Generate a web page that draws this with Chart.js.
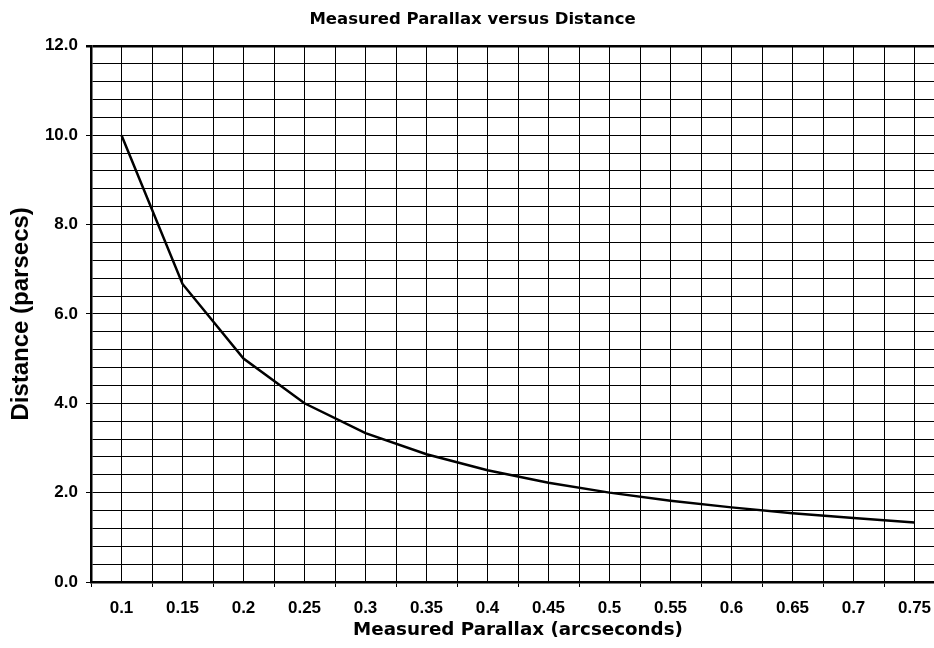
<!DOCTYPE html>
<html>
<head>
<meta charset="utf-8">
<script src="https://cdn.jsdelivr.net/npm/chart.js@4"></script>
<style>
  html, body { margin: 0; padding: 0; overflow: hidden; background: #fff; }
  canvas { display: block; }
</style>
</head>
<body>
<canvas id="parallaxChart" width="960" height="648"></canvas>
<script>
// Parallax (arcseconds) on the x axis
const parallax = ["0.1", "0.15", "0.2", "0.25", "0.3", "0.35", "0.4",
  "0.45", "0.5", "0.55", "0.6", "0.65", "0.7", "0.75"];

// Distance (parsecs)
const distance = [10.0, 6.67, 5.0, 4.0, 3.33, 2.86, 2.5,
  2.22, 2.0, 1.82, 1.67, 1.54, 1.43, 1.33];

// y axis: labels every 2.0, grid every 0.4
const yMin = 0;
const yMax = 12;
const yGridStep = 0.4;
const yLabelStep = 2;

const isLabelled = (v) => Math.round(v * 10) % Math.round(yLabelStep * 10) === 0;

new Chart(document.getElementById("parallaxChart"), {
  type: "line",
  data: {
    labels: parallax,
    datasets: [
      {
        data: distance,
        borderColor: "#000",
        borderWidth: 2.5,
        pointRadius: 0,
        tension: 0,
        fill: false,
      },
    ],
  },
  options: {
    responsive: false,
    animation: false,
    devicePixelRatio: 1,
    layout: { padding: { left: 0, right: 15, top: 0, bottom: 0 } },
    plugins: {
      legend: { display: false },
      tooltip: { enabled: false },
      title: {
        display: true,
        text: "Measured Parallax versus Distance",
        color: "#000",
        font: { family: "DejaVu Sans", size: 16.5, weight: "bold" },
        padding: { top: 10, bottom: 16 },
      },
    },
    scales: {
      x: {
        type: "category",
        position: "bottom",
        offset: true,
        grid: {
          offset: true,
          color: "#000",
          lineWidth: 1,
          tickLength: 5,
          tickColor: "#000",
        },
        border: { display: true, color: "#000", width: 2.5 },
        ticks: {
          color: "#000",
          padding: 11,
          autoSkip: false,
          maxRotation: 0,
          font: { family: "Liberation Sans", size: 17, weight: "bold" },
        },
        title: {
          display: true,
          text: "Measured Parallax (arcseconds)",
          color: "#000",
          font: { family: "DejaVu Sans", size: 18.3, weight: "bold" },
          padding: { top: 0, bottom: 7 },
        },
        afterFit: (scale) => { scale.height = 66; },
      },
      // second category axis only to draw the lines through each category
      xc: {
        type: "category",
        position: "top",
        offset: true,
        grid: { offset: false, color: "#000", lineWidth: 1, drawTicks: false },
        border: { display: false },
        ticks: { display: false },
        afterFit: (scale) => { scale.height = 0; },
      },
      y: {
        min: yMin,
        max: yMax,
        grid: {
          color: "#000",
          lineWidth: (ctx) => (ctx.tick && Math.abs(ctx.tick.value - yMax) < 1e-6 ? 2.5 : 1),
          tickLength: 5,
          tickColor: (ctx) => (ctx.tick && isLabelled(ctx.tick.value) ? "#000" : "rgba(0,0,0,0)"),
        },
        border: { display: true, color: "#000", width: 2.5 },
        ticks: {
          stepSize: yGridStep,
          autoSkip: false,
          color: "#000",
          padding: 8,
          font: { family: "Liberation Sans", size: 17, weight: "bold" },
          callback: (value) => (isLabelled(value) ? Number(value).toFixed(1) : ""),
        },
        title: {
          display: true,
          text: "Distance (parsecs)",
          color: "#000",
          font: { family: "Liberation Sans", size: 24, weight: "bold" },
          padding: { top: 7, bottom: 0 },
        },
        afterFit: (scale) => { scale.width = 91; },
      },
    },
  },
});
</script>
</body>
</html>
